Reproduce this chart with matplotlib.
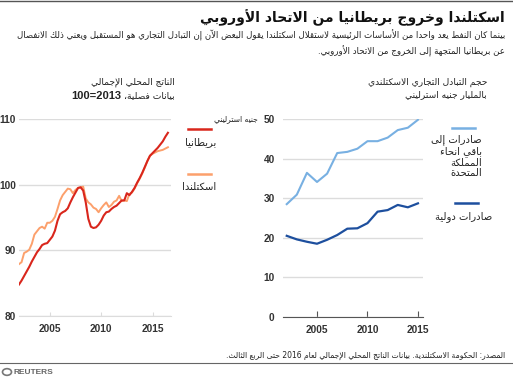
import re
import matplotlib
matplotlib.use('Agg')
import matplotlib.pyplot as plt
from matplotlib.lines import Line2D
from matplotlib.patches import Circle

plt.rcParams['font.family'] = ['DejaVu Sans']

# ---- data ----
gdp_quarters = [2002 + i * 0.25 for i in range(59)]  # 2002Q1 .. 2016Q3
gdp_uk = [84.8, 85.4, 86.1, 86.8, 87.5, 88.3, 89.0, 89.7, 90.2, 90.8, 91.0, 91.1,
          91.6, 92.1, 93.0, 94.5, 95.5, 95.8, 96.0, 96.4, 97.3, 98.1, 98.8, 99.5,
          99.6, 99.1, 97.3, 94.8, 93.6, 93.4, 93.5, 93.9, 94.5, 95.3, 95.8, 95.9,
          96.3, 96.6, 96.8, 97.2, 97.6, 97.6, 98.7, 98.4, 98.9, 99.5, 100.3, 101.0,
          101.8, 102.7, 103.6, 104.4, 104.8, 105.2, 105.6, 106.1, 106.6, 107.3, 107.9]
gdp_scotland = [87.9, 88.2, 89.6, 89.8, 90.1, 91.0, 92.4, 92.9, 93.4, 93.6, 93.3, 94.2,
                94.2, 94.5, 95.1, 96.3, 97.6, 98.4, 98.9, 99.4, 99.3, 98.7, 99.2, 99.5,
                99.6, 99.7, 97.9, 97.3, 97.0, 96.5, 96.3, 95.8, 96.4, 96.9, 97.3, 96.6,
                96.9, 97.4, 97.6, 98.3, 97.5, 97.6, 97.5, 98.6, 98.8, 99.4, 100.2, 100.9,
                101.7, 102.6, 103.6, 104.4, 104.7, 104.9, 105.1, 105.2, 105.3, 105.5, 105.7]

trade_years = list(range(2002, 2016))
exports_ruk = [28.5, 30.9, 36.4, 34.1, 36.2, 41.4, 41.7, 42.5, 44.4, 44.4, 45.3, 47.2, 47.8, 49.8]
exports_intl = [20.5, 19.6, 19.0, 18.5, 19.5, 20.7, 22.3, 22.4, 23.7, 26.6, 27.0, 28.3, 27.7, 28.7]

gdp_yticks = [80, 90, 100, 110]
trade_yticks = [0, 10, 20, 30, 40, 50]
year_ticks = [2005, 2010, 2015]

# ---- minimal arabic shaping (matplotlib has no complex text layout) ----
AR_FORMS = {
    'ء': (0xFE80, 1), 'آ': (0xFE81, 2), 'أ': (0xFE83, 2), 'ؤ': (0xFE85, 2), 'إ': (0xFE87, 2),
    'ئ': (0xFE89, 4), 'ا': (0xFE8D, 2), 'ب': (0xFE8F, 4), 'ة': (0xFE93, 2), 'ت': (0xFE95, 4),
    'ث': (0xFE99, 4), 'ج': (0xFE9D, 4), 'ح': (0xFEA1, 4), 'خ': (0xFEA5, 4), 'د': (0xFEA9, 2),
    'ذ': (0xFEAB, 2), 'ر': (0xFEAD, 2), 'ز': (0xFEAF, 2), 'س': (0xFEB1, 4), 'ش': (0xFEB5, 4),
    'ص': (0xFEB9, 4), 'ض': (0xFEBD, 4), 'ط': (0xFEC1, 4), 'ظ': (0xFEC5, 4), 'ع': (0xFEC9, 4),
    'غ': (0xFECD, 4), 'ف': (0xFED1, 4), 'ق': (0xFED5, 4), 'ك': (0xFED9, 4), 'ل': (0xFEDD, 4),
    'م': (0xFEE1, 4), 'ن': (0xFEE5, 4), 'ه': (0xFEE9, 4), 'و': (0xFEED, 2), 'ى': (0xFEEF, 2),
    'ي': (0xFEF1, 4),
}
LAM_ALEF = {'آ': 0xFEF5, 'أ': 0xFEF7, 'إ': 0xFEF9, 'ا': 0xFEFB}


def ar(text):
    lines = []
    for line in text.split('\n'):
        toks = []
        i = 0
        while i < len(line):
            c = line[i]
            if c == 'ل' and i + 1 < len(line) and line[i + 1] in LAM_ALEF:
                toks.append((None, LAM_ALEF[line[i + 1]], 2))
                i += 2
                continue
            if c in AR_FORMS:
                toks.append((None,) + AR_FORMS[c])
            else:
                toks.append((c, None, 0))
            i += 1
        out = []
        for k, (c, base, n) in enumerate(toks):
            if base is None:
                out.append(c)
                continue
            prev_ok = k > 0 and toks[k - 1][2] == 4
            next_ok = n == 4 and k + 1 < len(toks) and toks[k + 1][2] >= 2
            if n == 1:
                idx = 0
            elif prev_ok and next_ok:
                idx = 3
            elif prev_ok:
                idx = 1
            elif next_ok:
                idx = 2
            else:
                idx = 0
            out.append(chr(base + idx))
        vis = ''.join(out)[::-1]
        vis = re.sub(r'[0-9]+', lambda m: m.group(0)[::-1], vis)
        lines.append(vis)
    return '\n'.join(lines)


W, H = 513, 378


def fx(px):
    return px / W


def fy(py):
    return 1 - py / H


# ---- figure ----
fig = plt.figure(figsize=(W / 100, H / 100), dpi=100)
fig.patch.set_facecolor('white')

grid_col = '#dcdcdc'
label_col = '#333333'
txt_col = '#222222'

ax1 = fig.add_axes([fx(19), fy(316), fx(171) - fx(19), fy(119) - fy(316)])
ax1.plot(gdp_quarters, gdp_scotland, color='#fca06c', lw=1.4, zorder=2)
ax1.plot(gdp_quarters, gdp_uk, color='#d9261c', lw=1.5, zorder=3)
ax1.set_xlim(2002.0, 2016.8)
ax1.set_ylim(80, 110)
ax1.set_yticks(gdp_yticks)
ax1.set_xticks(year_ticks)
ax1.grid(axis='y', color=grid_col, lw=1)
ax1.tick_params(axis='y', length=0, pad=2)
ax1.tick_params(axis='x', direction='in', length=3, color=grid_col, pad=6)

ax2 = fig.add_axes([fx(283), fy(317), fx(423) - fx(283), fy(119) - fy(317)])
ax2.plot(trade_years, exports_ruk, color='#78b0e2', lw=1.5)
ax2.plot(trade_years, exports_intl, color='#1d4f9e', lw=1.6)
ax2.set_xlim(2001.63, 2015.5)
ax2.set_ylim(0, 50)
ax2.set_yticks(trade_yticks)
ax2.set_xticks(year_ticks)
ax2.grid(axis='y', color=grid_col, lw=1)
ax2.tick_params(axis='y', length=0, pad=6)
ax2.tick_params(axis='x', direction='in', length=4, color='#555555', pad=6)

for ax in (ax1, ax2):
    ax.set_axisbelow(True)
    for s in ('top', 'right', 'left'):
        ax.spines[s].set_visible(False)
    for lab in ax.get_xticklabels() + ax.get_yticklabels():
        lab.set_fontfamily('Liberation Sans')
        lab.set_fontweight('bold')
        lab.set_fontsize(7.3)
        lab.set_color(label_col)
ax1.spines['bottom'].set_color(grid_col)
ax2.spines['bottom'].set_color('#555555')

# ---- texts ----
fig.add_artist(Line2D([0, 1], [fy(1), fy(1)], color='#555555', lw=1))
fig.text(fx(505), fy(18), ar('اسكتلندا وخروج بريطانيا من الاتحاد الأوروبي'),
         ha='right', va='center', fontsize=10, fontweight='bold', color='#111111')
fig.text(fx(505), fy(43.5), ar('بينما كان النفط يعد واحدا من الأساسات الرئيسية لاستقلال اسكتلندا يقول البعض الآن إن التبادل التجاري هو المستقبل ويعني ذلك الانفصال\n'
                               'عن بريطانيا المتجهة إلى الخروج من الاتحاد الأوروبي.'),
         ha='right', va='center', fontsize=6.2, color=txt_col, linespacing=1.5)

fig.text(fx(175), fy(82), ar('الناتج المحلي الإجمالي'),
         ha='right', va='center', fontsize=6.6, color=txt_col)
sub = fig.text(fx(175), fy(96), ar('بيانات فصلية،'),
               ha='right', va='center', fontsize=6.6, color=txt_col)
fig.text(fx(487), fy(88.5), ar('حجم التبادل التجاري الاسكتلندي\nبالمليار جنيه استرليني'),
         ha='right', va='center', fontsize=6.6, color=txt_col, linespacing=1.4)
fig.text(fx(258), fy(119), ar('جنيه استرليني'), ha='right', va='center',
         fontsize=5.5, color=txt_col)

# legends
legend_items = [
    (188, 211, 129, '#d9261c', 216, 142, 'بريطانيا'),
    (188, 211, 174, '#fca06c', 216, 187, 'اسكتلندا'),
    (452, 475, 128, '#78b0e2', 482, 156.5, 'صادرات إلى\nباقي انحاء\nالمملكة\nالمتحدة'),
    (455, 478, 203, '#1d4f9e', 492, 217, 'صادرات دولية'),
]
for x0, x1, ly, col, tx, ty, name in legend_items:
    fig.add_artist(Line2D([fx(x0), fx(x1)], [fy(ly), fy(ly)], color=col, lw=1.8))
    fig.text(fx(tx), fy(ty), ar(name), ha='right', va='center', fontsize=7.2,
             color=txt_col, linespacing=1.1)

fig.text(fx(505), fy(355), ar('المصدر: الحكومة الاسكتلندية. بيانات الناتج المحلي الإجمالي لعام 2016 حتى الربع الثالث.'),
         ha='right', va='center', fontsize=5.5, color=txt_col)
fig.add_artist(Line2D([0, 1], [fy(363), fy(363)], color='#666666', lw=0.8))
fig.add_artist(Circle((fx(7), fy(372)), 4.5 / W, transform=fig.transFigure,
                      facecolor='white', edgecolor='#777777', lw=1.2))
fig.text(fx(14), fy(372), 'REUTERS', ha='left', va='center', fontsize=6,
         family='Liberation Sans', color='#666666', fontweight='bold')

# bold index part of the gdp subtitle, placed left of the arabic words
fig.canvas.draw()
bb = sub.get_window_extent()
fig.text((bb.x0 - 3) / W, fy(96), '100=2013', ha='right', va='center',
         fontsize=8, family='Liberation Sans', fontweight='bold', color=txt_col)

fig.savefig('out.png', dpi=100)
